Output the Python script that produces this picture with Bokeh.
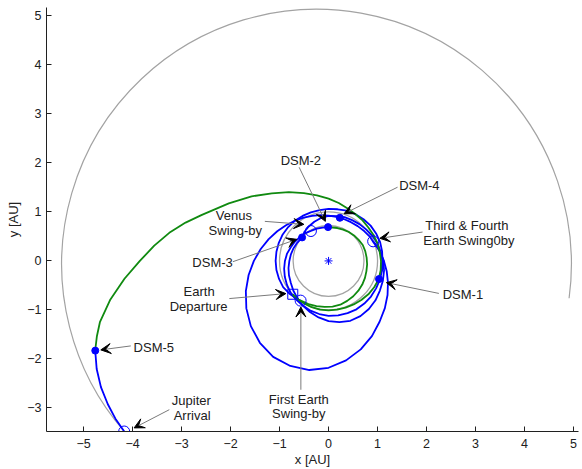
import numpy as np
from bokeh.plotting import figure
from bokeh.models import Range1d, FixedTicker, Label, Arrow, VeeHead
from bokeh.embed import file_html
from bokeh.resources import INLINE

# ---------------- data ----------------
x_ticks = [-5, -4, -3, -2, -1, 0, 1, 2, 3, 4, 5]
y_ticks = [-3, -2, -1, 0, 1, 2, 3, 4, 5]

# planet orbits (AU)
venus_r = 0.723
earth_r = 1.0
jup_cx, jup_cy, jup_r = -0.245, -0.065, 5.2
jup_start_deg, jup_end_deg = -7.7, 221.0

# trajectory legs, read as heliocentric angle (deg) and distance (AU)
# green legs
g_dep_th = [223, 230, 240, 250, 260, 270, 280, 290, 300, 310, 320, 330, 340]
g_dep_r = [1.0, 1.0, 1.0, 1.005, 1.01, 1.01, 1.01, 1.015, 1.025, 1.04, 1.06, 1.075, 1.09]

g_big_th = [-20, -10, 0, 10, 20, 30, 40, 50, 60, 70, 80, 90, 100, 110, 120, 130, 140, 150,
            160, 165, 170, 175, 180, 185, 190, 195, 198, 201]
g_big_r = [1.09, 1.08, 1.07, 1.06, 1.06, 1.06, 1.06, 1.08, 1.10, 1.14, 1.20, 1.27, 1.36, 1.47,
           1.62, 1.80, 2.05, 2.35, 2.75, 3.02, 3.30, 3.57, 3.85, 4.18, 4.52, 4.83, 4.97, 5.10]

g_inner_th = [235, 245, 255, 265, 275, 285, 295, 305, 315, 325, 335, 345, 355, 365, 375, 385,
              395, 405, 415, 425, 435, 450.8]
g_inner_r = [0.99, 0.97, 0.955, 0.94, 0.935, 0.925, 0.90, 0.88, 0.86, 0.84, 0.82, 0.80, 0.79,
             0.78, 0.775, 0.77, 0.75, 0.735, 0.72, 0.705, 0.695, 0.69]

# blue legs
b_dsm1_th = [340, 350, 360, 370, 380, 390, 400, 410, 420, 430, 440, 450, 460, 470, 480, 490, 500,
             510, 520, 530, 540, 550, 560, 570, 580, 590, 595]
b_dsm1_r = [1.09, 1.10, 1.10, 1.11, 1.12, 1.12, 1.12, 1.11, 1.10, 1.09, 1.07, 1.06, 1.05, 1.055,
            1.06, 1.07, 1.075, 1.08, 1.08, 1.08, 1.08, 1.08, 1.075, 1.07, 1.04, 1.01, 0.99]

b_dsm2_th = [90.8, 100, 110, 120.5]
b_dsm2_r = [0.69, 0.69, 0.70, 0.71]

b_venus_th = [120.5, 130, 140, 150, 160, 170, 180, 190, 200, 210, 220, 230, 240, 250, 260, 270,
              280, 290, 300, 310, 320, 330, 340, 350, 360, 370, 380, 390, 400, 410, 420, 430,
              440, 450, 460, 470, 480, 490, 498.4]
b_venus_r = [0.71, 0.74, 0.76, 0.79, 0.82, 0.86, 0.89, 0.92, 0.95, 0.98, 1.01, 1.03, 1.05, 1.08,
             1.10, 1.12, 1.13, 1.135, 1.14, 1.135, 1.13, 1.12, 1.115, 1.11, 1.10, 1.08, 1.06,
             1.03, 1.00, 0.98, 0.96, 0.95, 0.93, 0.92, 0.89, 0.85, 0.81, 0.77, 0.72]

b_dsm3_th = [138.4, 150, 160, 170, 180, 190, 200, 210, 220, 230, 240, 250, 260, 270, 280, 290,
             300, 310, 320, 330, 340, 350, 360, 370, 383.7]
b_dsm3_r = [0.72, 0.74, 0.76, 0.78, 0.80, 0.83, 0.86, 0.89, 0.94, 0.99, 1.05, 1.11, 1.17, 1.23,
            1.27, 1.30, 1.30, 1.28, 1.25, 1.21, 1.18, 1.15, 1.12, 1.07, 0.99]

b_big_th = [23.7, 30, 40, 50, 60, 70, 80, 90, 100, 110, 120, 130, 140, 150, 160, 170, 180, 190,
            200, 210, 220, 230, 240, 250, 260, 270, 280, 290, 300, 310, 320, 330, 340, 350,
            360, 370, 380, 383.7]
b_big_r = [0.99, 0.978, 0.948, 0.926, 0.913, 0.909, 0.913, 0.926, 0.948, 0.978, 1.019, 1.070,
           1.133, 1.209, 1.30, 1.405, 1.524, 1.656, 1.796, 1.937, 2.07, 2.18, 2.26, 2.28, 2.26,
           2.18, 2.06, 1.92, 1.77, 1.62, 1.50, 1.39, 1.29, 1.205, 1.13, 1.07, 1.019, 0.99]

b_jup_th = [201, 205, 209, 213, 216.5, 219.8]
b_jup_r = [5.10, 5.22, 5.31, 5.37, 5.41, 5.43]

# events (AU)
sun_x, sun_y = [0.0], [0.0]
dep_x, dep_y = [-0.73], [-0.68]
flyby_x = [-0.57, -0.36, 0.91, -4.17]
flyby_y = [-0.81, 0.61, 0.40, -3.48]
dsm_x = [1.03, -0.01, -0.54, 0.23, -4.76]
dsm_y = [-0.37, 0.69, 0.48, 0.88, -1.83]

# annotation texts (one entry per line) and their arrows
label_lines = [
    ("DSM-2", -0.565, 2.05), ("DSM-4", 1.853, 1.54),
    ("Third & Fourth", 2.822, 0.726), ("Earth Swing0by", 2.863, 0.407),
    ("Venus", -1.933, 0.929), ("Swing-by", -1.902, 0.624),
    ("DSM-3", -2.367, -0.033),
    ("Earth", -2.641, -0.616), ("Departure", -2.651, -0.921),
    ("First Earth", -0.606, -2.817), ("Swing-by", -0.606, -3.122),
    ("DSM-1", 2.741, -0.683), ("DSM-5", -3.565, -1.760),
    ("Jupiter", -2.80, -2.852), ("Arrival", -2.784, -3.150),
]
arrows = [
    (-0.60, 1.91, -0.065, 0.807),
    (1.408, 1.504, 0.318, 0.963),
    (1.918, 0.589, 1.047, 0.461),
    (-1.30, 0.807, -0.504, 0.746),
    (-1.953, -0.016, -0.647, 0.441),
    (-2.024, -0.768, -0.871, -0.667),
    (-0.565, -2.628, -0.565, -0.941),
    (2.251, -0.663, 1.18, -0.443),
    (-4.035, -1.734, -4.647, -1.815),
    (-3.249, -3.035, -3.967, -3.407),
]

# ---------------- plot ----------------
GRAY = "#a3a3a3"
GREEN = "#108a10"
BLUE = "#0000ff"
FONT = "Liberation Sans"
TXT = "#202020"


def polar(th_deg, r):
    th = np.radians(np.asarray(th_deg, dtype=float))
    r = np.asarray(r, dtype=float)
    return r * np.cos(th), r * np.sin(th)


p = figure(width=582, height=469,
           x_range=Range1d(-5.755, 5.10), y_range=Range1d(-3.48, 5.17),
           output_backend="svg", toolbar_location=None,
           min_border_left=46, min_border_right=4, min_border_top=7, min_border_bottom=37)
p.outline_line_color = None
p.xgrid.visible = False
p.ygrid.visible = False

for ax in (p.xaxis[0], p.yaxis[0]):
    ax.major_tick_in = 5
    ax.major_tick_out = 0
    ax.minor_tick_in = 0
    ax.minor_tick_out = 0
    ax.axis_line_color = TXT
    ax.major_tick_line_color = TXT
    ax.major_label_text_font = FONT
    ax.major_label_text_font_size = "12.5px"
    ax.major_label_text_color = TXT
    ax.axis_label_text_font = FONT
    ax.axis_label_text_font_size = "13px"
    ax.axis_label_text_font_style = "normal"
    ax.axis_label_text_color = TXT
p.xaxis.ticker = FixedTicker(ticks=x_ticks)
p.yaxis.ticker = FixedTicker(ticks=y_ticks)
p.xaxis.axis_label = "x [AU]"
p.yaxis.axis_label = "y [AU]"
p.xaxis.major_label_standoff = 7
p.xaxis.axis_label_standoff = 1
p.yaxis.major_label_standoff = 5
p.yaxis.axis_label_standoff = 3

# orbits
p.circle(x=[0, 0], y=[0, 0], radius=[venus_r, earth_r], fill_color=None,
         line_color=GRAY, line_width=1.3)
p.arc(x=[jup_cx], y=[jup_cy], radius=[jup_r],
      start_angle=[np.radians(jup_start_deg)], end_angle=[np.radians(jup_end_deg)],
      line_color=GRAY, line_width=1.2)

# legs
for th, r in [(b_dsm1_th, b_dsm1_r), (b_dsm2_th, b_dsm2_r), (b_venus_th, b_venus_r),
              (b_dsm3_th, b_dsm3_r), (b_big_th, b_big_r), (b_jup_th, b_jup_r)]:
    xs, ys = polar(th, r)
    p.line(xs, ys, line_color=BLUE, line_width=1.8, line_join="round")
for th, r in [(g_dep_th, g_dep_r), (g_big_th, g_big_r), (g_inner_th, g_inner_r)]:
    xs, ys = polar(th, r)
    p.line(xs, ys, line_color=GREEN, line_width=1.8, line_join="round")

# markers
p.scatter(sun_x, sun_y, marker="asterisk", size=8, line_color=BLUE, line_width=1)
p.scatter(dep_x, dep_y, marker="square", size=10, fill_color=None, line_color=BLUE, line_width=1)
p.scatter(flyby_x, flyby_y, marker="circle", size=11, fill_color=None, line_color=BLUE, line_width=1)
p.scatter(dsm_x, dsm_y, marker="circle", size=7, fill_color=BLUE, line_color=BLUE)

# annotations
for xs, ys, xe, ye in arrows:
    p.add_layout(Arrow(end=VeeHead(size=10, fill_color="black", line_color="black", line_width=1),
                       x_start=xs, y_start=ys, x_end=xe, y_end=ye,
                       line_color="#7a7a7a", line_width=1))
for txt, lx, ly in label_lines:
    p.add_layout(Label(x=lx, y=ly, text=txt, text_align="center", text_baseline="middle",
                       text_font=FONT, text_font_size="13px", text_color=TXT))

open("out.html", "w").write(file_html(p, INLINE))
